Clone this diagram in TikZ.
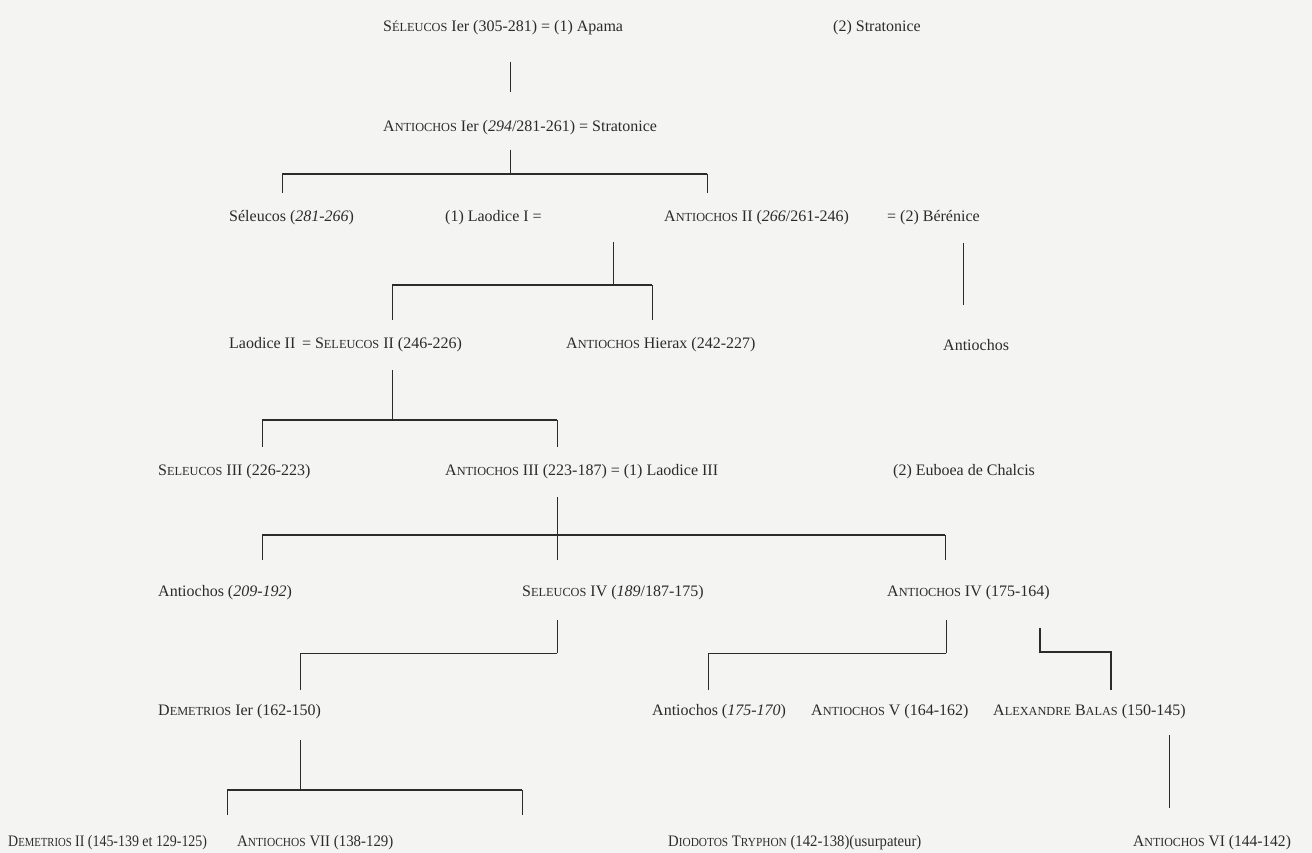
\documentclass[tikz,border=0pt]{standalone}
\usepackage{fontspec}
\setmainfont{Liberation Serif}
\usepackage{xcolor}
\usepackage{tikz}
\usetikzlibrary{calc}

\definecolor{fond}{HTML}{F4F4F2}
\definecolor{encre}{HTML}{2B2B2B}
\newcommand{\pc}[2]{#1{\fontsize{12.3}{14}\selectfont #2}}
\newcommand{\serre}[2]{\scalebox{#1}[1]{#2}}

\tikzset{
  pers/.style={anchor=west, inner sep=0pt, text=encre, font=\fontsize{16}{19}\selectfont},
  lien/.style={draw=encre, line width=0.9pt},
  barre/.style={draw=encre, line width=1.5pt},
  balas/.style={draw=encre, line width=2.4pt}
}

\begin{document}
\begin{tikzpicture}[x=1pt, y=-1pt]
\fill[fond] (0,0) rectangle (1312,853);
\useasboundingbox (0,0) rectangle (1312,853);

% generation 1-2
\node[pers] (seleucosI) at (383,28) {\pc{S}{ÉLEUCOS} Ier (305-281) = (1) Apama};
\node[pers] (stratoniceA) at (833,28) {(2) Stratonice};
\node[pers] (antiochosI) at (383,128) {\pc{A}{NTIOCHOS} Ier (\textit{294}/281-261) = Stratonice};
\coordinate (a1) at (510,62);
\coordinate (a2) at (510,92);
\draw[lien] (a1) -- (a2);

% generation 3
\node[pers] (seleucosF) at (229,218) {Séleucos (\textit{281-266})};
\node[pers] (laodiceI) at (445,218) {(1) Laodice I =};
\node[pers] (antiochosII) at (664,218) {\pc{A}{NTIOCHOS} II (\textit{266}/261-246)};
\node[pers] (berenice) at (887,218) {= (2) Bérénice};
\coordinate (b1) at (510,150);
\coordinate (b2) at (510,174);
\coordinate (bG) at (282,174);
\coordinate (bD) at (707,174);
\draw[lien] (b1) -- (b2);
\draw[barre] (bG) -- (bD);
\draw[lien] (bG) -- ++(0,19);
\draw[lien] (bD) -- ++(0,19);

% generation 4
\node[pers] (laodiceII) at (229,345) {Laodice II\, = \pc{S}{ELEUCOS} II (246-226)};
\node[pers] (hierax) at (566,345) {\pc{A}{NTIOCHOS} Hierax (242-227)};
\node[pers] (antiochosB) at (943,345) {Antiochos};
\coordinate (c1) at (613,242);
\coordinate (c2) at (613,285);
\coordinate (cG) at (392,285);
\coordinate (cD) at (652,285);
\draw[lien] (c1) -- (c2);
\draw[barre] (cG) -- (cD);
\draw[lien] (cG) -- ++(0,35);
\draw[lien] (cD) -- ++(0,35);
\coordinate (e1) at (963,243);
\coordinate (e2) at (963,305);
\draw[lien] (e1) -- (e2);

% generation 5
\node[pers] (seleucosIII) at (158,472) {\pc{S}{ELEUCOS} III (226-223)};
\node[pers] (antiochosIII) at (445,472) {\pc{A}{NTIOCHOS} III (223-187) = (1) Laodice III};
\node[pers] (euboea) at (893,472) {(2) Euboea de Chalcis};
\coordinate (d1) at (392,370);
\coordinate (d2) at (392,420);
\coordinate (dG) at (262,420);
\coordinate (dD) at (557,420);
\draw[lien] (d1) -- (d2);
\draw[barre] (dG) -- (dD);
\draw[lien] (dG) -- ++(0,27);
\draw[lien] (dD) -- ++(0,27);

% generation 6
\node[pers] (antiochosE) at (158,593) {Antiochos (\textit{209-192})};
\node[pers] (seleucosIV) at (522,593) {\pc{S}{ELEUCOS} IV (\textit{189}/187-175)};
\node[pers] (antiochosIV) at (887,593) {\pc{A}{NTIOCHOS} IV (175-164)};
\coordinate (f1) at (557,497);
\coordinate (f2) at (557,535);
\coordinate (fG) at (262,535);
\coordinate (fD) at (945,535);
\draw[lien] (f1) -- (f2);
\draw[barre] (fG) -- (fD);
\draw[lien] (fG) -- ++(0,25);
\draw[lien] (f2) -- ++(0,25);
\draw[lien] (fD) -- ++(0,25);

% generation 7
\node[pers] (demetriosI) at (158,712) {\pc{D}{EMETRIOS} Ier (162-150)};
\node[pers] (antiochosF) at (652,712) {Antiochos (\textit{175-170})};
\node[pers] (antiochosV) at (811,712) {\pc{A}{NTIOCHOS} V (164-162)};
\node[pers] (alexandre) at (993,712) {\pc{A}{LEXANDRE} \pc{B}{ALAS} (150-145)};
\coordinate (g1) at (557,620);
\coordinate (g2) at (557,653);
\coordinate (gG) at (300,653);
\draw[lien] (g1) -- (g2);
\draw[lien] (gG) -- (g2);
\draw[lien] (gG) -- ++(0,37);
\coordinate (h1) at (946,620);
\coordinate (h2) at (946,653);
\coordinate (hG) at (708,653);
\draw[lien] (h1) -- (h2);
\draw[lien] (hG) -- (h2);
\draw[lien] (hG) -- ++(0,37);
\coordinate (k1) at (1040,628);
\coordinate (k2) at (1040,652);
\coordinate (k3) at (1111,652);
\coordinate (k4) at (1111,690);
\draw[balas] (k1) -- (k2) -- (k3) -- (k4);

% generation 8 (slightly condensed, as printed)
\node[pers] (demetriosII) at (8,843) {\serre{0.87}{\pc{D}{EMETRIOS} II (145-139 et 129-125)}};
\node[pers] (antiochosVII) at (237,843) {\serre{0.93}{\pc{A}{NTIOCHOS} VII (138-129)}};
\node[pers] (diodotos) at (668,843) {\serre{0.92}{\pc{D}{IODOTOS} \pc{T}{RYPHON} (142-138)(usurpateur)}};
\node[pers] (antiochosVI) at (1133,843) {\serre{0.97}{\pc{A}{NTIOCHOS} VI (144-142)}};
\coordinate (m1) at (300,740);
\coordinate (m2) at (300,790);
\coordinate (mG) at (227,790);
\coordinate (mD) at (522,790);
\draw[lien] (m1) -- (m2);
\draw[barre] (mG) -- (mD);
\draw[lien] (mG) -- ++(0,25);
\draw[lien] (mD) -- ++(0,25);
\coordinate (n1) at (1169,735);
\coordinate (n2) at (1169,808);
\draw[lien] (n1) -- (n2);
\end{tikzpicture}
\end{document}
